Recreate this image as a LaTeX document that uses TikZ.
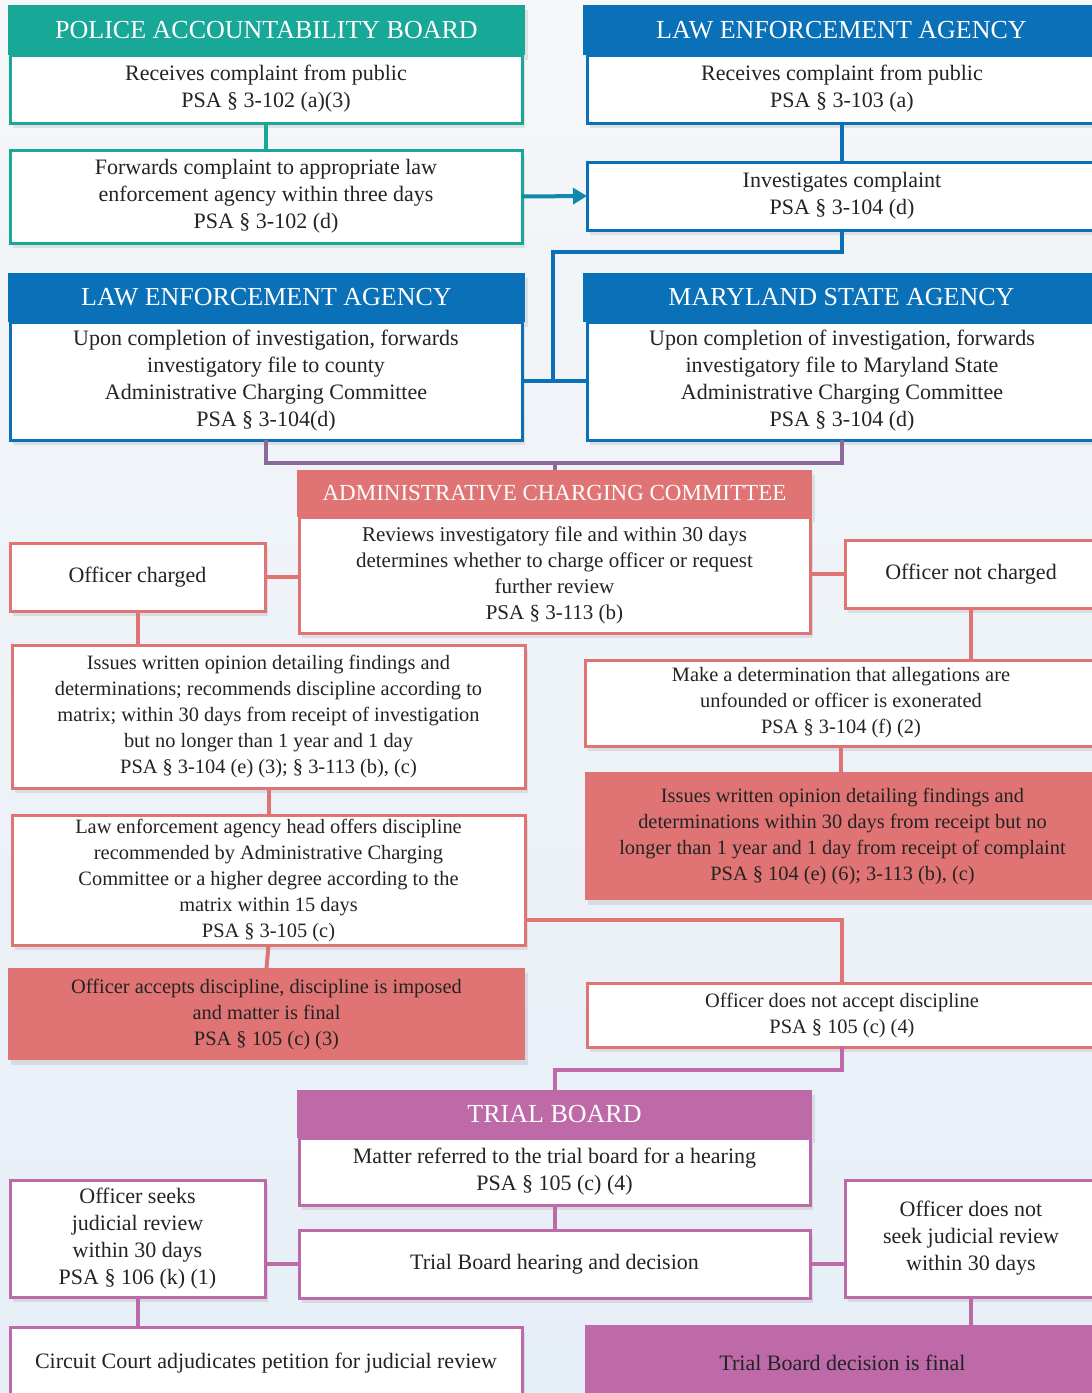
\documentclass[tikz,border=0pt]{standalone}
\usepackage{fontspec}
\setmainfont{Liberation Serif}
\usepackage{xcolor}
\usepackage{tikz}
\usetikzlibrary{arrows.meta,shadows,calc}

\definecolor{pabteal}{RGB}{23,168,152}
\definecolor{leablue}{RGB}{10,112,184}
\definecolor{linkpurple}{RGB}{139,106,155}
\definecolor{accred}{RGB}{224,116,116}
\definecolor{trmag}{RGB}{190,106,168}
\definecolor{bgtop}{RGB}{245,247,248}
\definecolor{bgbot}{RGB}{230,238,247}
\definecolor{txtdark}{RGB}{35,35,35}

\begin{document}
\begin{tikzpicture}[x=0.5pt,y=-0.5pt,
	head/.style={fill=#1, text=white, font=\fontsize{13}{15}\selectfont, drop shadow={opacity=0.18,shadow xshift=1.5pt,shadow yshift=-2.5pt}},
	box/.style={draw=#1, fill=white, line width=1.5pt, align=center, drop shadow={opacity=0.18,shadow xshift=1.5pt,shadow yshift=-2.5pt}},
	fbox/.style={fill=#1, align=center, drop shadow={opacity=0.18,shadow xshift=1.5pt,shadow yshift=-2.5pt}},
	ln/.style={draw=#1, line width=2pt}]
	\tikzstyle{every node}=[font=\fontsize{11}{13.5}\selectfont, text=txtdark, inner sep=0pt, outer sep=0pt]
		\useasboundingbox (0,0) rectangle (1092,1393);
		\fill[top color=bgtop, bottom color=bgbot] (0,0) rectangle (1092,1393);
		% police accountability board
		\node [head=pabteal, minimum width=258.5pt, minimum height=25pt] (pabh) at (266.5,30) {POLICE ACCOUNTABILITY BOARD};
		\node [box=pabteal, minimum width=256pt, minimum height=34pt] (pab1) at (266,89) {Receives complaint from public\\PSA § 3-102 (a)(3)};
		\node [box=pabteal, minimum width=256pt, minimum height=46.5pt] (pab2) at (266,196.5) {Forwards complaint to appropriate law\\enforcement agency within three days\\PSA § 3-102 (d)};
		% law enforcement agency
		\node [head=leablue, minimum width=258.5pt, minimum height=25pt] (leah) at (841.5,30) {LAW ENFORCEMENT AGENCY};
		\node [box=leablue, minimum width=255pt, minimum height=34pt] (lea1) at (842,89) {Receives complaint from public\\PSA § 3-103 (a)};
		\node [box=leablue, minimum width=255pt, minimum height=34pt] (inv) at (842,196) {Investigates complaint\\PSA § 3-104 (d)};
		\node [head=leablue, minimum width=258.5pt, minimum height=24.5pt] (lea2h) at (266.5,297.5) {LAW ENFORCEMENT AGENCY};
		\node [box=leablue, minimum width=256pt, minimum height=59pt] (lea2) at (266,381) {Upon completion of investigation, forwards\\investigatory file to county\\Administrative Charging Committee\\PSA § 3-104(d)};
		\node [head=leablue, minimum width=258.5pt, minimum height=24.5pt] (msah) at (841.5,297.5) {MARYLAND STATE AGENCY};
		\node [box=leablue, minimum width=255pt, minimum height=59pt] (msa) at (842,381) {Upon completion of investigation, forwards\\investigatory file to Maryland State\\Administrative Charging Committee\\PSA § 3-104 (d)};
		% administrative charging committee
		\node [head=accred, minimum width=257.5pt, minimum height=23.5pt, font=\fontsize{11.5}{14}\selectfont] (acch) at (554.5,493.5) {ADMINISTRATIVE CHARGING COMMITTEE};
		\node [box=accred, minimum width=255.5pt, minimum height=58pt, font=\fontsize{10.5}{13}\selectfont] (acc) at (554.5,575) {Reviews investigatory file and within 30 days\\determines whether to charge officer or request\\further review\\PSA § 3-113 (b)};
		\node [box=accred, minimum width=127.5pt, minimum height=34pt] (ofch) at (137.5,577) {Officer charged};
		\node [box=accred, minimum width=126pt, minimum height=34pt] (nonch) at (971,574) {Officer not charged};
		\node [box=accred, minimum width=256.5pt, minimum height=71.5pt, font=\fontsize{10.2}{13}\selectfont] (iss) at (268.5,716.5) {Issues written opinion detailing findings and\\determinations; recommends discipline according to\\matrix; within 30 days from receipt of investigation\\but no longer than 1 year and 1 day\\PSA § 3-104 (e) (3); § 3-113 (b), (c)};
		\node [box=accred, minimum width=256pt, minimum height=43pt, font=\fontsize{10.2}{13}\selectfont] (mkdet) at (841,703) {Make a determination that allegations are\\unfounded or officer is exonerated\\PSA § 3-104 (f) (2)};
		\node [fbox=accred, minimum width=257.5pt, minimum height=64pt, font=\fontsize{10.2}{13}\selectfont] (iss2) at (842.5,836) {Issues written opinion detailing findings and\\determinations within 30 days from receipt but no\\longer than 1 year and 1 day from receipt of complaint\\PSA § 104 (e) (6); 3-113 (b), (c)};
		\node [box=accred, minimum width=256.5pt, minimum height=65pt, font=\fontsize{10.2}{13}\selectfont] (lhd) at (268.5,880) {Law enforcement agency head offers discipline\\recommended by Administrative Charging\\Committee or a higher degree according to the\\matrix within 15 days\\PSA § 3-105 (c)};
		\node [fbox=accred, minimum width=258.5pt, minimum height=46pt, font=\fontsize{10.2}{13}\selectfont] (acpt) at (266.5,1014) {Officer accepts discipline, discipline is imposed\\and matter is final\\PSA § 105 (c) (3)};
		\node [box=accred, minimum width=255pt, minimum height=32pt, font=\fontsize{10.2}{13}\selectfont] (nacc) at (842,1015) {Officer does not accept discipline\\PSA § 105 (c) (4)};
		% trial board
		\node [head=trmag, minimum width=257.5pt, minimum height=24pt] (trh) at (554.5,1114) {TRIAL BOARD};
		\node [box=trmag, minimum width=255.5pt, minimum height=33.5pt] (trm) at (554.5,1171.5) {Matter referred to the trial board for a hearing\\PSA § 105 (c) (4)};
		\node [box=trmag, minimum width=255.5pt, minimum height=34pt] (trd) at (554.5,1264) {Trial Board hearing and decision};
		\node [box=trmag, minimum width=127.5pt, minimum height=58.5pt] (seek) at (137.5,1238.5) {Officer seeks\\judicial review\\within 30 days\\PSA § 106 (k) (1)};
		\node [box=trmag, minimum width=126pt, minimum height=58.5pt] (noseek) at (971,1238.5) {Officer does not\\seek judicial review\\within 30 days};
		\node [box=trmag, minimum width=256pt, minimum height=36.5pt] (circ) at (266,1363.5) {Circuit Court adjudicates petition for judicial review};
		\node [fbox=trmag, minimum width=257.5pt, minimum height=37.5pt] (final) at (842.5,1362.5) {Trial Board decision is final};
		% connectors
		\coordinate (jn) at (553,381);
		\coordinate (pj) at (554.5,463);
		\coordinate (lk) at ($(lhd.south east)+(0,-25)$);
		\coordinate (tj) at (554.5,1070);
		\draw [ln=pabteal] (pab1.south) -- (pab2.north);
		\draw [ln=pabteal!45!leablue, -{Triangle[length=7pt,width=8pt]}] (pab2.east) -- (inv.west);
		\draw [ln=leablue] (lea1.south) -- (inv.north);
		\draw [ln=leablue] (inv.south) -- ++(0,22) -| (jn);
		\draw [ln=leablue] (lea2.east) -- (msa.west);
		\draw [ln=linkpurple] (lea2.south) |- (pj) -| (msa.south);
		\draw [ln=linkpurple] (pj) -- (acch.north);
		\draw [ln=accred] (ofch.east) -- (ofch.east -| acc.west);
		\draw [ln=accred] (nonch.west) -- (nonch.west -| acc.east);
		\draw [ln=accred] (ofch.south) -- (ofch.south |- iss.north);
		\draw [ln=accred] (iss.south) -- (lhd.north);
		\draw [ln=accred] (lhd.south) -- (acpt.north);
		\draw [ln=accred] (lk) -| (nacc.north);
		\draw [ln=accred] (nonch.south) -- (nonch.south |- mkdet.north);
		\draw [ln=accred] (mkdet.south) -- (mkdet.south |- iss2.north);
		\draw [ln=trmag] (nacc.south) |- (tj) -- (trh.north);
		\draw [ln=trmag] (trm.south) -- (trd.north);
		\draw [ln=trmag] (trd.west) -- (trd.west -| seek.east);
		\draw [ln=trmag] (trd.east) -- (trd.east -| noseek.west);
		\draw [ln=trmag] (seek.south) -- (seek.south |- circ.north);
		\draw [ln=trmag] (noseek.south) -- (noseek.south |- final.north);
	\end{tikzpicture}
\end{document}
